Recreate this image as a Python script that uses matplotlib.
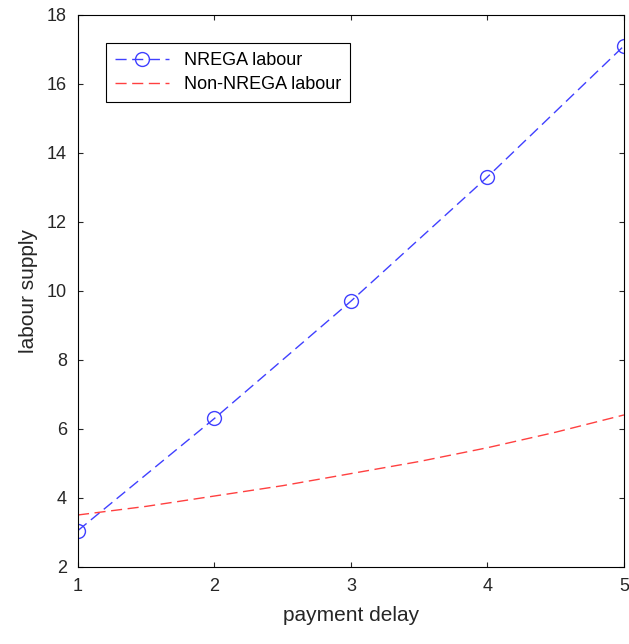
import matplotlib
matplotlib.use("Agg")
import matplotlib.pyplot as plt

plt.rcParams['font.family'] = ['Liberation Sans', 'DejaVu Sans']

delay = [1, 2, 3, 4, 5]
nrega = [3.05, 6.3, 9.7, 13.3, 17.1]
delay_fine = [1, 1.5, 2, 2.5, 3, 3.5, 4, 4.5, 5]
non_nrega = [3.5, 3.75, 4.05, 4.35, 4.7, 5.05, 5.45, 5.9, 6.4]

fig = plt.figure(figsize=(6.29, 6.44), dpi=100)
ax = fig.add_axes([0.124, 0.12, 0.868, 0.857])
ax.plot(delay, nrega, color='#4040ff', linestyle=(0, (8, 4)), lw=1,
        marker='o', markersize=10, markerfacecolor='none', markeredgecolor='#4040ff',
        label='NREGA labour')
ax.plot(delay_fine, non_nrega, color='#ff4040', linestyle=(0, (8, 4)), lw=1,
        label='Non-NREGA labour')
ax.set_xlim(1, 5)
ax.set_ylim(2, 18)
ax.set_xticks([1, 2, 3, 4, 5])
ax.set_yticks(range(2, 19, 2))
ax.tick_params(direction='in', labelsize=13, top=True, right=True, colors='#262626', pad=8)
ax.set_xlabel('payment delay', fontsize=15, color='#262626', labelpad=8)
ax.set_ylabel('labour supply', fontsize=15, color='#262626', labelpad=6)
leg = ax.legend(loc='upper left', bbox_to_anchor=(0.035, 0.965), fontsize=13,
                fancybox=False, edgecolor='black', framealpha=1, handlelength=3,
                borderpad=0.5, labelspacing=0.4)
leg.get_frame().set_linewidth(0.8)
fig.savefig('out.png', dpi=100)
